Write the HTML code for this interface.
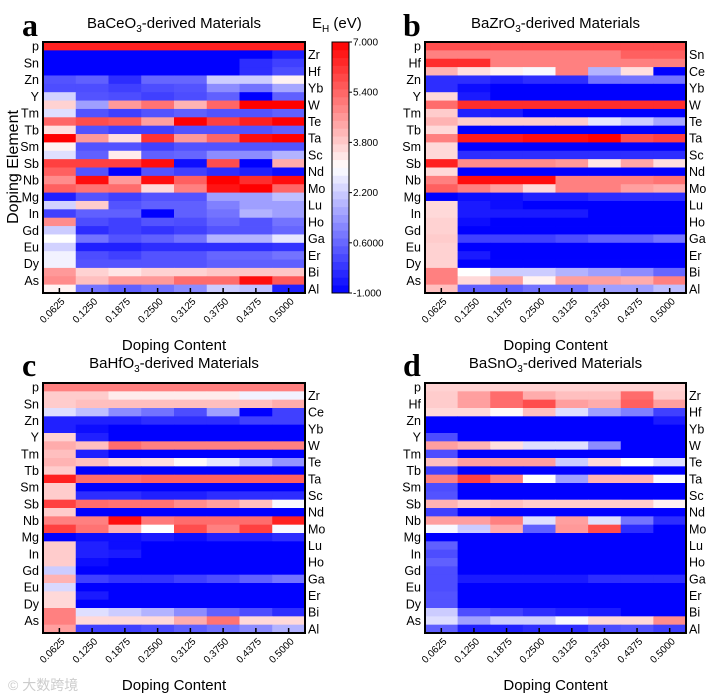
<!DOCTYPE html>
<html><head><meta charset="utf-8"><style>
html,body{margin:0;padding:0;background:#fff;}
svg{display:block;font-family:"Liberation Sans",sans-serif;}
</style></head><body>
<svg id="fig" width="721" height="699" viewBox="0 0 721 699" xmlns="http://www.w3.org/2000/svg"></svg>
<script>
const contents = ["0.0625","0.1250","0.1875","0.2500","0.3125","0.3750","0.4375","0.5000"];
const cbTicks = ["7.000","5.400","3.800","2.200","0.6000","-1.000"];
const cbTickValues = [7,5.4,3.8,2.2,0.6,-1];
const leftA = ["p","Sn","Zn","Y","Tm","Tb","Sm","Sb","Nb","Mg","In","Gd","Eu","Dy","As"];
const rightA = ["Zr","Hf","Yb","W","Te","Ta","Sc","Nd","Mo","Lu","Ho","Ga","Er","Bi","Al"];
const leftB = ["p","Hf","Zn","Y","Tm","Tb","Sm","Sb","Nb","Mg","In","Gd","Eu","Dy","As"];
const rightB = ["Sn","Ce","Yb","W","Te","Ta","Sc","Nd","Mo","Lu","Ho","Ga","Er","Bi","Al"];
const leftC = ["p","Sn","Zn","Y","Tm","Tb","Sm","Sb","Nb","Mg","In","Gd","Eu","Dy","As"];
const rightC = ["Zr","Ce","Yb","W","Te","Ta","Sc","Nd","Mo","Lu","Ho","Ga","Er","Bi","Al"];
const leftD = ["p","Hf","Zn","Y","Tm","Tb","Sm","Sb","Nb","Mg","In","Gd","Eu","Dy","As"];
const rightD = ["Zr","Hf","Yb","W","Te","Ta","Sc","Nd","Mo","Lu","Ho","Ga","Er","Bi","Al"];
const valuesA = [
[6.5,6.5,6.5,6.5,6.5,6.5,6.5,6.5],[-1,-1,-1,-1,-1,-1,-1,-0.5],[-1,-1,-1,-1,-1,-1,-0.3,0],[-1,-1,-1,-1,-1,-1,-0.3,0.2],
[0.3,0.5,-0.3,0.6,0.6,2.2,2.2,3.2],[0.2,0.2,0,0.2,0.3,1.2,0.8,1.6],[2.3,0.3,0.2,0,0.2,0.5,-1,0.5],[3.7,1.5,4.6,5.2,4.2,5.4,7,7],
[2.5,0.3,0,0.3,0.5,0.3,0.3,0.5],[5.4,5.8,5.6,4.5,7,6,6.5,7],[3.5,0.3,0,0,0.3,0.3,0.3,0.5],[7,4.6,3.5,6.2,4.6,5.4,6.8,7],
[3.2,0.3,0.3,0,0.3,0.3,0.3,0.3],[2.5,0.5,3.3,0.5,0.6,1.2,1.2,1.8],[6,6,6,6.8,-0.8,5.8,-1,4.3],[5.5,0.3,-1,0.3,0,-0.3,-0.5,-0.8],
[4.8,6.8,4.6,6.8,5.5,7,6.3,6.8],[5.5,5.2,5.3,3.6,5,6.7,7,5.4],[-0.5,0.3,0,0.3,0.3,1.5,1.5,2],[2.3,3.8,0.3,0.5,0.5,1,1.5,1.5],
[0,0.5,0.5,-1,0.5,0.8,1.8,1.5],[4.8,0.2,0,0.3,0.2,0.6,0.3,0.8],[2.2,-0.3,0,-0.2,0,0.3,0.3,0.6],[3,0.8,0.3,0.5,0.8,1.8,1.8,2.6],
[2.3,-0.5,-0.5,-0.3,-0.3,-0.3,-0.3,-0.2],[2.8,0.2,0,0.3,0.3,0.6,0.6,0.8],[2.8,0.3,0.3,0.3,0.3,0.5,0.5,0.5],[4.6,3.7,3.4,3.7,3.7,3.9,3.9,3.9],
[4.8,4.0,4.6,4.6,5.3,5.3,6.8,5.6],[3.2,0.8,0.5,0.8,1.2,2.2,2.0,-0.5]];
const valuesB = [
[5.8,5.8,5.8,5.8,5.8,5.8,5.8,5.8],[5,5,5,5,5,5,5.5,5.5],[6.3,6.3,5,5,5,5,5,5],[4.2,3.5,3.2,2.9,5,1.8,3.5,-1],
[-0.3,-0.3,-0.5,-0.3,-0.3,0.8,0.8,0.8],[-0.3,-0.8,-1,-1,-1,-1,-1,-1],[3.6,-0.6,-1,-1,-1,-1,-1,-1],[5.3,6.3,6.3,6.3,6.3,6.3,6.3,6.3],
[3.8,-0.5,-0.6,-1,-1,-1,-1,-1],[4.2,3.8,3.8,3.8,3.8,2.6,2.2,1.6],[3.6,-1,-1,-1,-1,-1,-1,-1],[5,6.6,6.6,6.8,6.8,7,5.8,6.0],
[3.6,-1,-1,-1,-1,-1,-1,-1],[3.6,-0.3,-0.3,-0.3,-0.3,-0.3,-0.3,-0.3],[6.5,4.8,4.8,4.8,4.6,3.4,4.4,3.5],[3.6,-1,-1,-1,-1,-1,-1,-1],
[5,6.8,6.8,6.8,5,5,5,5.2],[5.5,5,4.5,3.6,5,5,4.5,4.3],[-1,-0.8,-0.8,-0.5,-0.5,-0.3,-0.3,-0.3],[3.6,-0.6,-0.8,-1,-1,-1,-1,-1],
[3.6,-0.6,-0.6,-0.6,-0.6,-1,-1,-1],[3.7,-0.8,-1,-1,-1,-1,-1,-1],[3.7,-1,-1,-1,-1,-1,-1,-1],[3.8,0,0,0,0.2,0.5,0.5,0.8],
[3.7,-1,-1,-1,-1,-1,-1,-1],[3.7,-0.6,-1,-1,-1,-1,-1,-1],[3.7,-1,-1,-1,-1,-1,-1,-1],[5,3.0,2.2,2.2,1.8,1.5,1.2,0.6],
[5,3.6,4.5,3.2,4.5,4.5,4.3,5],[4,0.5,0.5,0.8,0.8,1.5,1.5,2]];
const valuesC = [
[5,5,5,5,5,5,5,5],[3.8,3.8,3.3,3.3,3.3,3.3,2.8,2.8],[3.8,4,4,4,4,4,4,4.3],[2.5,2,1.2,0.8,0.2,1.5,-1,0],
[-0.5,-0.5,-0.5,-0.3,-0.3,-0.3,0,0],[-0.5,-0.8,-1,-1,-1,-1,-1,-1],[3.7,-0.5,-1,-1,-1,-1,-1,-1],[4.3,4,5.3,5,5,5,5,5],
[4,-0.5,-1,-1,-1,-1,-1,-1],[4.2,4.0,3.6,3.5,3.1,2.6,2,1.3],[3.8,-1,-1,-1,-1,-1,-1,-1],[6.5,5.3,5.3,5.5,5.5,5.5,5.5,5.5],
[3.8,-1,-1,-1,-1,-1,-1,-1],[3.8,-0.3,-0.3,-0.5,-0.5,-0.3,-0.3,-0.3],[6,5.3,5.2,5.2,4.8,4.5,4,2.9],[3.8,-1,-1,-1,-1,-1,-1,-1],
[5,5,6.8,5.1,5.3,5.3,5.3,6.5],[6,5.2,4.2,3.0,5.8,5,6,2.9],[-1,-0.8,-0.8,-0.6,-0.8,-0.5,-0.5,-0.3],[3.8,-0.5,-0.8,-1,-1,-1,-1,-1],
[3.8,-0.5,-0.6,-1,-1,-1,-1,-1],[3.8,-0.8,-1,-1,-1,-1,-1,-1],[2.2,-1,-1,-1,-1,-1,-1,-1],[4.2,0,-0.2,-0.2,0,0.2,0.5,0.8],
[2.4,-1,-1,-1,-1,-1,-1,-1],[3.6,-0.6,-1,-1,-1,-1,-1,-1],[3.6,-1,-1,-1,-1,-1,-1,-1],[5,2.5,2.2,1.8,1.2,0.5,0.2,-0.3],
[5,3.6,3.6,3.6,4.3,5.2,3.6,3.6],[4.5,0,0,0.2,0.5,0.8,1.2,1.8]];
const valuesD = [
[3.7,3.7,3.7,3.7,3.7,3.7,3.7,3.7],[3.8,4.5,5.3,4.3,4.0,4.0,5.3,3.8],[3.8,4.5,5.3,5.8,4.5,4.3,5.5,4.5],[3.6,3.6,3.1,4,2.5,1.5,1,0],
[-1,-1,-1,-1,-1,-1,-1,-0.6],[-1,-1,-1,-1,-1,-1,-1,-1],[0.2,-1,-1,-1,-1,-1,-1,-1],[4.5,4.2,3.5,2.5,2.5,1.2,-1,-1],
[0.2,-1,-1,-1,-1,-1,-1,-1],[4.0,4.5,4.5,4.5,2.2,3.6,3.0,2.5],[0,-1,-1,-1,-1,-1,-1,-1],[5,6,5,3,1.5,4.2,4.2,2.9],
[0.2,-1,-1,-1,-1,-1,-1,-1],[0.3,-1,-1,-1,-1,-1,-1,-1],[4.2,3.8,4,3.8,3.8,3.8,3.8,3.2],[0,-1,-1,-1,-1,-1,-1,-1],
[4.5,4.5,5,2.5,4.5,2.5,0.8,-0.3],[2.9,2.2,4.3,0.5,4.6,5.8,-0.3,-1],[-1,-1,-1,-1,-1,-1,-1,-1],[0.5,-1,-1,-1,-1,-1,-1,-1],
[0.2,-1,-1,-1,-1,-1,-1,-1],[0.5,-1,-1,-1,-1,-1,-1,-1],[0.2,-1,-1,-1,-1,-1,-1,-1],[0.2,-0.6,-0.6,-0.6,-0.6,-0.3,-0.3,-0.3],
[0.2,-1,-1,-1,-1,-1,-1,-1],[0.3,-1,-1,-1,-1,-1,-1,-1],[0.3,-1,-1,-1,-1,-1,-1,-1],[2.2,0.2,0,-0.3,-0.5,-0.6,-1,-1],
[2.5,1.5,2.2,2.2,2.9,3.6,3.6,4.8],[0.5,-0.5,-0.5,-0.3,-0.3,0.2,0.3,0]];

const NS="http://www.w3.org/2000/svg";
const svg=document.getElementById('fig');
function mk(tag,attrs,parent,text){const e=document.createElementNS(NS,tag);for(const k in attrs)e.setAttribute(k,attrs[k]);if(text!==undefined)e.textContent=text;(parent||svg).appendChild(e);return e;}
function color(v){
  v=Math.max(-1,Math.min(7,v));
  if(v<3){const t=(v+1)/4;const c=Math.round(255*t);return `rgb(${c},${c},255)`;}
  const t=(v-3)/4;const c=Math.round(255*(1-t));return `rgb(255,${c},${c})`;
}
function panel(id,letter,title,sub,x0,y0,x1,y1,left,right,vals,letterX,titleY,xtitleY){
  const g=mk('g',{},svg);
  
  
  const nc=contents.length,nr=vals.length;
  const xs=i=>x0+(x1-x0)*i/nc, ys=j=>y0+(y1-y0)*j/nr;
  for(let j=0;j<nr;j++)for(let i=0;i<nc;i++){
    const r=mk('rect',{x:xs(i),y:ys(j),width:xs(i+1)-xs(i)+0.4,height:ys(j+1)-ys(j)+0.4,fill:color(vals[j][i])},g);
    
    
  }
  const b=mk('rect',{x:x0,y:y0,width:x1-x0,height:y1-y0,fill:'none',stroke:'#000','stroke-width':2},g);
  
  
  for(let i=0;i<nc;i++){
    const cx=(xs(i)+xs(i+1))/2;
    const tk=mk('line',{x1:cx,x2:cx,y1:y1,y2:y1-5,stroke:'#000','stroke-width':1.5},g);
    
    
    const t=mk('text',{x:cx+6,y:y1+9,'font-size':10,'text-anchor':'end',transform:`rotate(-45 ${cx+6} ${y1+9})`},g,contents[i]);
    
    
  }
  left.forEach((s,k)=>{const j=2*k;const t=mk('text',{x:x0-4,y:(ys(j)+ys(j+1))/2+4.5,'font-size':12.5,'text-anchor':'end'},g,s);
    
    });
  right.forEach((s,k)=>{const j=2*k+1;const t=mk('text',{x:x1+3,y:(ys(j)+ys(j+1))/2+4.5,'font-size':12.5},g,s);
    
    });
  const L=mk('text',{x:letterX,y:titleY+8,'font-size':32,'font-weight':'bold','font-family':'Liberation Serif, serif'},g,letter);
  
  
  const T=mk('text',{x:(x0+x1)/2,y:titleY,'font-size':15,'text-anchor':'middle'},g);
  
  
  mk('tspan',{},T,'Ba'+title);
  mk('tspan',{'font-size':10,dy:4},T,'3');
  mk('tspan',{dy:-4},T,'-derived Materials');
  const X=mk('text',{x:(x0+x1)/2,y:xtitleY,'font-size':15,'text-anchor':'middle'},g,'Doping Content');
  
  
}
panel('a','a','CeO',0,43,42,305,293,leftA,rightA,valuesA,22,28,350);
panel('b','b','ZrO',0,425,42,686,293,leftB,rightB,valuesB,403,28,350);
panel('c','c','HfO',0,43,383,305,633,leftC,rightC,valuesC,22,368,690);
panel('d','d','SnO',0,425,383,686,633,leftD,rightD,valuesD,403,368,690);

const yt=mk('text',{x:0,y:0,'font-size':16,'text-anchor':'middle',transform:'translate(18 167) rotate(-90)'},svg,'Doping Element');



// colorbar
const cb=mk('g',{},svg);


const cx0=332,cx1=349,cy0=42,cy1=293,nb=32;
const cyv=v=>cy1-(v+1)/8*(cy1-cy0);
for(let k=0;k<nb;k++){
  const v=-1+8*(k+0.5)/nb;
  const r=mk('rect',{x:cx0,y:cy1-(k+1)*(cy1-cy0)/nb,width:cx1-cx0,height:(cy1-cy0)/nb+0.4,fill:color(v)},cb);
  
  
}
mk('rect',{x:cx0,y:cy0,width:cx1-cx0,height:cy1-cy0,fill:'none',stroke:'#000','stroke-width':1},cb);
cbTicks.forEach((s,k)=>{const y=cyv(cbTickValues[k]);
  mk('line',{x1:cx1,x2:cx1+3,y1:y,y2:y,stroke:'#000'},cb);
  const t=mk('text',{x:cx1+4,y:y+3.5,'font-size':10},cb,s);
  
  });
const ct=mk('text',{x:312,y:28,'font-size':15},cb);


mk('tspan',{},ct,'E');mk('tspan',{'font-size':10,dy:4},ct,'H');mk('tspan',{dy:-4},ct,' (eV)');

const wm=mk('text',{x:8,y:690,'font-size':14,fill:'#ccc','font-family':'Liberation Sans, Noto Sans CJK SC, sans-serif'},svg,'© 大数跨境');


</script>
</body></html>
